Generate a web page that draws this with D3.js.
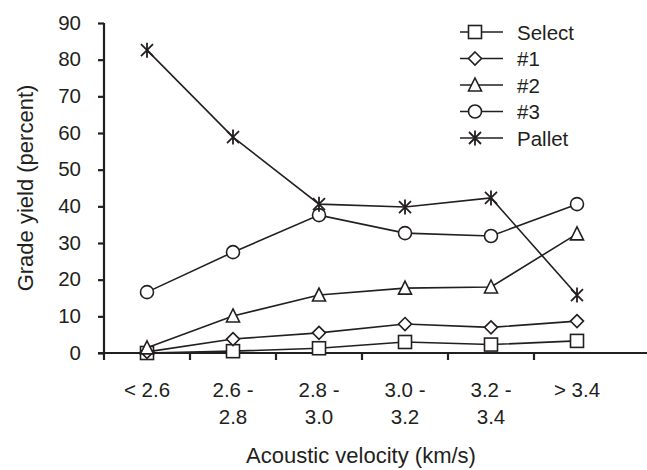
<!DOCTYPE html>
<html>
<head>
<meta charset="utf-8">
<script src="https://cdn.jsdelivr.net/npm/d3@7"></script>
<style>
  body { margin: 0; background: #fff; }
  svg { display: block; font-family: 'Liberation Sans', Arial, sans-serif; }
</style>
</head>
<body>
<svg width="647" height="470"></svg>
<script>
// Categories (velocity classes), each label split into two lines
const categories = ['< 2.6', '2.6 - 2.8', '2.8 - 3.0', '3.0 - 3.2', '3.2 - 3.4', '> 3.4']
const categoryLines = [['< 2.6'], ['2.6 -', '2.8'], ['2.8 -', '3.0'], ['3.0 -', '3.2'], ['3.2 -', '3.4'], ['> 3.4']]
const yTicks = [0, 10, 20, 30, 40, 50, 60, 70, 80, 90]

// Series values (percent)
const selectVals = [0, 0.5, 1.3, 3.0, 2.3, 3.3]
const no1Vals = [0.3, 3.8, 5.5, 7.9, 7.0, 8.7]
const no2Vals = [1.4, 10.1, 15.8, 17.7, 18.0, 32.5]
const no3Vals = [16.6, 27.5, 37.6, 32.7, 31.9, 40.6]
const palletVals = [82.6, 58.9, 40.6, 39.8, 42.3, 15.8]

const seriesNames = ['Select', '#1', '#2', '#3', 'Pallet']
const seriesData = [selectVals, no1Vals, no2Vals, no3Vals, palletVals]
const symbols = ['square', 'diamond', 'triangle', 'circle', 'asterisk']

const ink = '#231f20'
const svg = d3.select('svg')

const xPixelMin = 104
const bandW = 86
const xScale = d3.scaleBand().domain(categories).range([xPixelMin, xPixelMin + bandW * 6])
const yScale = d3.scaleLinear().domain([0, 90]).range([353, 23])

// Marker drawing
const drawMarker = (g, type) => {
  const s = { fill: '#fff', stroke: ink, 'stroke-width': 1.6 }
  const apply = (sel) => { Object.entries(s).forEach(([k, v]) => sel.attr(k, v)); return sel }
  if (type === 'square') {
    apply(g.append('rect').attr('x', -6.5).attr('y', -6.5).attr('width', 13).attr('height', 13))
  } else if (type === 'diamond') {
    apply(g.append('path').attr('d', 'M0,-6.5L6.5,0L0,6.5L-6.5,0Z'))
  } else if (type === 'triangle') {
    apply(g.append('path').attr('d', 'M0,-7L6.5,6L-6.5,6Z'))
  } else if (type === 'circle') {
    apply(g.append('circle').attr('r', 6.5))
  } else {
    g.append('path')
      .attr('d', 'M-6,-6L6,6M-6,6L6,-6M0,-7.5L0,7.5')
      .attr('stroke', ink).attr('stroke-width', 1.8).attr('fill', 'none')
  }
}

// Y axis
const yAxis = d3.axisLeft(yScale).tickValues(yTicks).tickSize(6).tickPadding(17)
const yG = svg.append('g').attr('transform', `translate(${xPixelMin},0)`).call(yAxis)
yG.select('.domain').attr('stroke', ink).attr('stroke-width', 2.2).attr('d', `M0,${yScale(90)}V${yScale(0)}`)
yG.selectAll('.tick line').attr('stroke', ink).attr('stroke-width', 2.2)
yG.selectAll('.tick text').attr('fill', ink).style('font-size', '20.5px').attr('dy', '0.3em')

// X axis
const xAxis = d3.axisBottom(xScale).tickSize(0).tickFormat('')
const xG = svg.append('g').attr('transform', `translate(0,${yScale(0)})`).call(xAxis)
xG.select('.domain').attr('stroke', ink).attr('stroke-width', 2.2).attr('d', `M${xPixelMin - 6},0H647`)
// tick marks between categories
xG.selectAll('line.sep')
  .data(categories)
  .enter()
  .append('line')
  .attr('class', 'sep')
  .attr('x1', (d) => xScale(d)).attr('x2', (d) => xScale(d))
  .attr('y1', 0).attr('y2', 7)
  .attr('stroke', ink).attr('stroke-width', 2.2)

xG.selectAll('g.tick').each(function (d, i) {
  const t = d3.select(this).append('text')
    .attr('fill', ink).attr('text-anchor', 'middle')
    .attr('y', 0).style('font-size', '20.5px')
  categoryLines[i].forEach((ln, j) => {
    t.append('tspan').attr('x', 0).attr('y', 44 + j * 27).text(ln)
  })
})

// Axis titles
svg.append('text')
  .attr('transform', `translate(33,${(yScale(0) + yScale(90)) / 2}) rotate(-90)`)
  .attr('text-anchor', 'middle')
  .attr('fill', ink)
  .style('font-size', '22px')
  .text('Grade yield (percent)')

svg.append('text')
  .attr('x', 361).attr('y', 463)
  .attr('text-anchor', 'middle')
  .attr('fill', ink)
  .style('font-size', '22px')
  .text('Acoustic velocity (km/s)')

// Lines
const cx = (i) => xScale(categories[i]) + xScale.bandwidth() / 2
const line = d3.line().x((d, i) => cx(i)).y((d) => yScale(d))

seriesData.forEach((vals, s) => {
  svg.append('path')
    .attr('d', line(vals))
    .attr('fill', 'none')
    .attr('stroke', ink)
    .attr('stroke-width', 1.6)
})

// Markers
seriesData.forEach((vals, s) => {
  vals.forEach((v, i) => {
    const g = svg.append('g').attr('transform', `translate(${cx(i)},${yScale(v)})`)
    drawMarker(g, symbols[s])
  })
})

// Legend
const legend = svg.append('g').attr('transform', 'translate(460,32)')
seriesNames.forEach((name, i) => {
  const row = legend.append('g').attr('transform', `translate(0,${i * 26.5})`)
  row.append('line').attr('x1', 0).attr('x2', 43).attr('stroke', ink).attr('stroke-width', 1.6)
  drawMarker(row.append('g').attr('transform', 'translate(15,0)'), symbols[i])
  row.append('text')
    .attr('x', 57).attr('y', 7.5)
    .attr('fill', ink)
    .style('font-size', '20.5px')
    .text(name)
})
</script>
</body>
</html>
